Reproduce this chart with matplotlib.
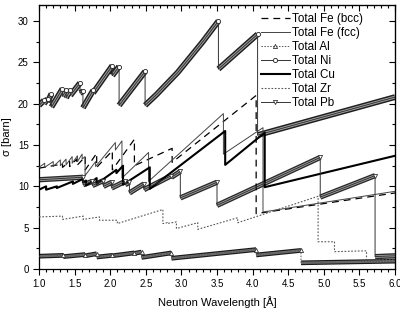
import numpy as np
import matplotlib
matplotlib.use('Agg')
import matplotlib.pyplot as plt
import matplotlib.patheffects as pe
from matplotlib.ticker import MultipleLocator, NullFormatter

plt.rcParams['font.family'] = ['Liberation Sans', 'DejaVu Sans']

# wavelength [A] and total cross section [barn]
# (a Bragg edge shows up as the same wavelength twice: value before / after)
fe_bcc_x = [1.00, 1.33, 1.33, 1.43, 1.43, 1.53, 1.53, 1.65, 1.65, 1.81, 1.81,
            2.03, 2.03, 2.34, 2.34, 2.87, 2.87, 4.05, 4.05, 6.00]
fe_bcc_y = [12.2, 12.7, 12.3, 13.0, 12.4, 13.3, 12.5, 13.6, 12.0, 14.0, 12.3,
            14.3, 12.0, 15.7, 12.5, 14.6, 12.9, 21.0, 6.7, 9.2]

fe_fcc_x = [1.00, 1.08, 1.08, 1.20, 1.20, 1.30, 1.30, 1.38, 1.38, 1.466, 1.466,
            1.54, 1.54, 1.606, 1.606, 1.647, 1.647, 1.795, 1.795, 2.073, 2.073,
            2.165, 2.165, 2.539, 2.539, 3.59, 3.59, 4.146, 4.146, 6.00]
fe_fcc_y = [12.3, 12.8, 12.3, 13.0, 12.4, 13.2, 12.5, 13.3, 12.6, 13.6, 12.8,
            13.7, 13.0, 13.9, 13.3, 13.6, 11.3, 13.0, 12.4, 15.3, 14.4,
            15.5, 11.0, 14.1, 10.6, 18.8, 13.9, 17.1, 6.9, 9.4]

al_x = [1.00, 1.34, 1.34, 1.65, 1.65, 1.81, 1.81, 2.03, 2.03, 2.34, 2.34,
        2.44, 2.44, 2.86, 2.86, 4.05, 4.05, 4.68, 4.68, 6.00]
al_y = [1.55, 1.65, 1.50, 1.75, 1.60, 1.85, 1.45, 1.65, 1.60, 1.95, 1.90,
        2.05, 1.40, 1.95, 1.30, 2.35, 1.70, 2.25, 0.75, 0.95]

ni_x = [1.00, 1.07, 1.07, 1.12, 1.12, 1.175, 1.175, 1.33, 1.33, 1.38, 1.38,
        1.44, 1.44, 1.576, 1.576, 1.617, 1.617, 1.76, 1.76, 2.03, 2.03,
        2.125, 2.125, 2.49, 2.49, 2.65, 2.95, 3.30, 3.52, 3.52, 4.07, 4.07, 6.00]
ni_y = [19.8, 20.4, 20.0, 20.6, 20.2, 21.2, 19.6, 21.8, 20.9, 21.6, 20.7,
        21.7, 21.0, 22.5, 21.3, 21.5, 19.5, 21.6, 21.3, 24.6, 23.4,
        24.5, 19.8, 23.9, 19.8, 21.1, 23.8, 27.5, 30.0, 24.2, 28.4, 16.2, 20.8]

cu_x = [1.00, 1.10, 1.10, 1.25, 1.25, 1.476, 1.476, 1.617, 1.617, 1.66, 1.66,
        1.81, 1.81, 2.087, 2.087, 2.18, 2.18, 2.556, 2.556, 3.615, 3.615,
        4.17, 4.17, 6.00]
cu_y = [9.6, 10.0, 9.6, 10.0, 9.8, 10.6, 10.3, 10.9, 10.5, 10.7, 10.1,
        11.0, 10.3, 12.0, 11.6, 12.5, 10.2, 12.3, 9.7, 16.7, 12.6,
        16.5, 9.9, 13.7]

zr_x = [1.00, 1.33, 1.33, 1.62, 1.62, 1.85, 1.85, 2.10, 2.10, 2.74, 2.74,
        2.80, 2.80, 2.93, 2.93, 3.23, 3.23, 3.79, 3.79, 4.92, 4.92, 5.15,
        5.15, 5.60, 5.60, 6.00]
zr_y = [6.3, 6.4, 6.0, 6.4, 6.0, 6.3, 5.9, 5.9, 5.5, 7.2, 5.5,
        5.6, 5.5, 5.7, 4.9, 5.6, 4.8, 6.2, 5.6, 8.8, 3.3, 3.3,
        2.1, 2.2, 1.1, 1.2]

pb_x = [1.00, 1.62, 1.62, 1.75, 1.75, 1.905, 1.905, 2.02, 2.02, 2.21, 2.21,
        2.27, 2.27, 2.475, 2.475, 2.86, 2.86, 2.985, 2.985, 3.50, 3.50,
        4.95, 4.95, 5.72, 5.72, 6.00]
pb_y = [10.8, 11.1, 10.2, 10.6, 10.1, 10.7, 10.0, 10.5, 9.8, 10.6, 10.2,
        10.5, 9.2, 10.3, 9.6, 11.3, 11.1, 11.8, 8.6, 10.5, 7.7,
        13.5, 8.7, 11.3, 1.5, 1.6]


def band(x, y):
    # split at the vertical edges so only the sloped parts get the thick marker band
    x = np.asarray(x, float)
    y = np.asarray(y, float)
    brk = np.where(np.diff(x) == 0)[0] + 1
    return np.insert(x, brk, np.nan), np.insert(y, brk, np.nan)


def tops(x):
    # index of the last point before each edge (where the open marker sticks out)
    x = np.asarray(x, float)
    return list(np.where(np.diff(x) == 0)[0])


fig = plt.figure(figsize=(4.0, 3.09), dpi=100)
ax = fig.add_axes([0.0975, 0.1294, 0.89, 0.856])

# thick "marker bands" for the densely sampled series
for xs, ys, inner, outer, w in [(al_x, al_y, '#707070', '#1a1a1a', 3.4),
                                (ni_x, ni_y, '#a0a0a0', '#1e1e1e', 4.2),
                                (pb_x, pb_y, '#a0a0a0', '#2a2a2a', 3.8)]:
    bx, by = band(xs, ys)
    ax.plot(bx, by, color=inner, lw=w * 0.5, solid_capstyle='butt',
            path_effects=[pe.Stroke(linewidth=w, foreground=outer), pe.Normal()],
            zorder=2)

ax.plot(fe_bcc_x, fe_bcc_y, color='black', lw=0.9, dashes=(5.5, 4),
        label='Total Fe (bcc)', zorder=3)
ax.plot(fe_fcc_x, fe_fcc_y, color='#444444', lw=0.7,
        label='Total Fe (fcc)', zorder=3)
ax.plot(al_x, al_y, color='#555555', lw=0.7, ls=(0, (1.5, 1.5)),
        marker='^', ms=3.0, mfc='white', mec='#333333', mew=0.6,
        markevery=tops(al_x), label='Total Al', zorder=3)
ax.plot(ni_x, ni_y, color='#333333', lw=0.7,
        marker='o', ms=3.0, mfc='white', mec='#222222', mew=0.6,
        markevery=tops(ni_x), label='Total Ni', zorder=3)
ax.plot(cu_x, cu_y, color='black', lw=1.5, label='Total Cu', zorder=3)
ax.plot(zr_x, zr_y, color='#555555', lw=0.8, ls=(0, (1.5, 1.5)),
        label='Total Zr', zorder=3)
ax.plot(pb_x, pb_y, color='#333333', lw=0.7,
        marker='v', ms=3.0, mfc='white', mec='#333333', mew=0.6,
        markevery=tops(pb_x), label='Total Pb', zorder=3)

ax.set_xlim(1.0, 6.0)
ax.set_ylim(0, 32)
ax.xaxis.set_major_locator(MultipleLocator(0.5))
ax.xaxis.set_minor_locator(MultipleLocator(0.1))
ax.yaxis.set_major_locator(MultipleLocator(5))
ax.yaxis.set_minor_locator(MultipleLocator(2.5))
ax.tick_params(which='both', direction='out', labelsize=7, width=0.8)
ax.tick_params(which='major', length=4)
ax.tick_params(which='minor', length=2.5)

# mirrored ticks on top and right, pointing inwards
top = ax.secondary_xaxis('top')
top.xaxis.set_major_locator(MultipleLocator(0.5))
top.xaxis.set_minor_locator(MultipleLocator(0.1))
top.xaxis.set_major_formatter(NullFormatter())
top.tick_params(which='both', direction='in', width=0.8)
top.tick_params(which='major', length=4)
top.tick_params(which='minor', length=2.5)
right = ax.secondary_yaxis('right')
right.yaxis.set_major_locator(MultipleLocator(5))
right.yaxis.set_minor_locator(MultipleLocator(2.5))
right.yaxis.set_major_formatter(NullFormatter())
right.tick_params(which='both', direction='in', width=0.8)
right.tick_params(which='major', length=4)
right.tick_params(which='minor', length=2.5)

for s in ax.spines.values():
    s.set_linewidth(0.9)

ax.set_xlabel('Neutron Wavelength [Å]', fontsize=8, labelpad=5)
ax.set_ylabel('σ [barn]', fontsize=8, labelpad=4)

ax.legend(loc='upper left', bbox_to_anchor=(0.6, 1.0), frameon=False,
          fontsize=8.4, handlelength=2.5, handletextpad=0.2,
          labelspacing=0.18, borderaxespad=0.3)

fig.savefig('out.png', dpi=100)
